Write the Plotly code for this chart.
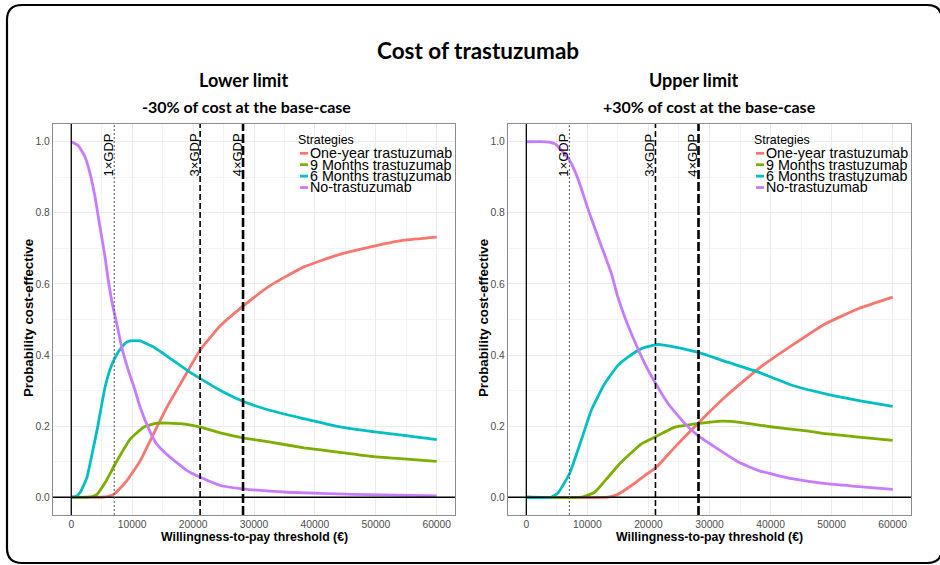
import plotly.graph_objects as go

W, H = 940, 565

# ---------------- data ----------------
strategies = ["One-year trastuzumab", "9 Months trastuzumab", "6 Months trastuzumab", "No-trastuzumab"]
colors = ["#F8766D", "#7CAE00", "#00BFC4", "#C77CFF"]
gdp = 7050
gdp_multiples = [1, 3, 4]
gdp_labels = ["1\u00d7GDP", "3\u00d7GDP", "4\u00d7GDP"]
x_ticks = [0, 10000, 20000, 30000, 40000, 50000, 60000]
y_ticks = [0.0, 0.2, 0.4, 0.6, 0.8, 1.0]

# Lower limit (-30%)
low_one_x = [0, 5000, 6000, 7200, 9150, 11340, 13530, 15730, 17920, 21200, 24500, 28160, 32700, 38200, 43700, 49150, 54600, 60000]
low_one_y = [0, 0, 0.002, 0.011, 0.047, 0.103, 0.179, 0.254, 0.319, 0.415, 0.483, 0.537, 0.596, 0.648, 0.681, 0.704, 0.723, 0.732]
low_9m_x = [0, 2500, 3500, 4220, 5590, 7230, 9700, 11890, 14080, 17920, 21200, 24500, 28160, 32700, 38200, 43700, 49150, 54600, 60000]
low_9m_y = [0, 0, 0.002, 0.008, 0.042, 0.094, 0.164, 0.197, 0.2085, 0.207, 0.197, 0.181, 0.167, 0.155, 0.139, 0.127, 0.115, 0.108, 0.101]
low_6m_x = [0, 800, 1480, 2580, 3400, 4300, 5550, 6630, 7730, 8830, 9650, 11290, 13530, 16270, 19020, 21200, 24500, 28160, 32700, 38200, 43700, 49150, 54600, 60000]
low_6m_y = [0, 0.003, 0.014, 0.056, 0.120, 0.195, 0.310, 0.372, 0.409, 0.433, 0.440, 0.440, 0.4225, 0.390, 0.357, 0.3335, 0.300, 0.270, 0.244, 0.221, 0.199, 0.185, 0.174, 0.162]
low_no_x = [0, 1100, 2200, 3070, 3890, 4710, 5530, 6070, 6730, 7450, 8270, 9370, 10470, 11290, 13000, 14000, 15700, 19000, 21200, 24500, 28200, 35500, 46400, 60000]
low_no_y = [1.0, 0.990, 0.960, 0.912, 0.846, 0.761, 0.677, 0.611, 0.545, 0.489, 0.423, 0.357, 0.301, 0.254, 0.182, 0.150, 0.120, 0.075, 0.056, 0.033, 0.0235, 0.014, 0.008, 0.004]

# Upper limit (+30%)
up_one_x = [0, 13370, 15010, 17210, 19400, 21310, 24330, 28060, 32550, 38030, 43510, 48990, 54460, 60000]
up_one_y = [0, 0, 0.008, 0.033, 0.061, 0.0845, 0.141, 0.207, 0.282, 0.362, 0.427, 0.488, 0.531, 0.563]
up_9m_x = [0, 8990, 11180, 13370, 15560, 18850, 21040, 24330, 28060, 32000, 35290, 39670, 46250, 48990, 54460, 60000]
up_9m_y = [0, 0, 0.014, 0.056, 0.099, 0.150, 0.169, 0.197, 0.207, 0.214, 0.210, 0.199, 0.186, 0.179, 0.169, 0.160]
up_6m_x = [0, 4060, 5150, 7070, 8990, 10630, 12820, 15010, 16650, 18850, 21590, 24330, 28060, 32550, 38030, 43510, 48990, 54460, 60000]
up_6m_y = [0, 0, 0.011, 0.066, 0.160, 0.244, 0.319, 0.371, 0.394, 0.418, 0.430, 0.4225, 0.408, 0.382, 0.352, 0.315, 0.291, 0.272, 0.2555]
up_no_x = [0, 3230, 4600, 5970, 7070, 8440, 10080, 12000, 13920, 15010, 16110, 17210, 19400, 21040, 23230, 25970, 28060, 30910, 34740, 38030, 43510, 48990, 54460, 60000]
up_no_y = [1.0, 1.0, 0.995, 0.972, 0.948, 0.897, 0.812, 0.720, 0.630, 0.562, 0.507, 0.460, 0.376, 0.324, 0.263, 0.207, 0.174, 0.141, 0.099, 0.075, 0.052, 0.038, 0.030, 0.022]

panels = [
    dict(series=[(low_one_x, low_one_y), (low_9m_x, low_9m_y), (low_6m_x, low_6m_y), (low_no_x, low_no_y)],
         title="Lower limit", subtitle="-30% of cost at the base-case"),
    dict(series=[(up_one_x, up_one_y), (up_9m_x, up_9m_y), (up_6m_x, up_6m_y), (up_no_x, up_no_y)],
         title="Upper limit", subtitle="+30% of cost at the base-case"),
]

# ---------------- layout geometry (pixels) ----------------
def px(x):
    return x / W

def py(y):
    return 1 - y / H

panel_x = [(53, 455), (508, 911)]
panel_y = (124, 515)
title_cx = [(243, 246), (694, 709)]
legend_x = [296, 752]
ytitle_x = [28, 483]

fig = go.Figure()
shapes = []
annotations = []
tick_font = dict(family="Liberation Sans, Arial", size=10.3, color="#4D4D4D")

for i, p in enumerate(panels):
    xa = "x" if i == 0 else "x2"
    ya = "y" if i == 0 else "y2"
    for (sx, sy), name, c in zip(p["series"], strategies, colors):
        fig.add_trace(go.Scatter(x=sx, y=sy, mode="lines", name=name,
                                 line=dict(color=c, width=2.8, shape="spline", smoothing=0.4),
                                 xaxis=xa, yaxis=ya, showlegend=False))
    axkey = "" if i == 0 else "2"
    xaxis = dict(domain=[px(panel_x[i][0]), px(panel_x[i][1])], range=[-3000, 63000],
                 tickvals=x_ticks, ticktext=[str(v) for v in x_ticks],
                 showgrid=True, gridcolor="#EBEBEB", gridwidth=1,
                 minor=dict(showgrid=True, gridcolor="#F4F4F4", gridwidth=0.6, dtick=10000, tick0=5000),
                 zeroline=False, showline=True, mirror=True, linecolor="#8C8C8C", linewidth=1.2,
                 ticks="", tickfont=tick_font, anchor=ya)
    yaxis = dict(domain=[py(panel_y[1]), py(panel_y[0])], range=[-0.05, 1.05],
                 tickvals=y_ticks, ticktext=["%.1f" % v for v in y_ticks],
                 showgrid=True, gridcolor="#EBEBEB", gridwidth=1,
                 minor=dict(showgrid=True, gridcolor="#F4F4F4", gridwidth=0.6, dtick=0.2, tick0=0.1),
                 zeroline=False, showline=True, mirror=True, linecolor="#8C8C8C", linewidth=1.2,
                 ticks="", tickfont=tick_font, anchor=xa)
    fig.update_layout(**{"xaxis" + axkey: xaxis, "yaxis" + axkey: yaxis})

    # reference lines at 0
    shapes.append(dict(type="line", xref=xa, yref=ya + " domain", x0=0, x1=0, y0=0, y1=1,
                       line=dict(color="black", width=1.3), layer="above"))
    shapes.append(dict(type="line", xref=xa + " domain", yref=ya, x0=0, x1=1, y0=0, y1=0,
                       line=dict(color="black", width=1.3), layer="above"))
    # GDP thresholds
    styles = [dict(color="#555555", width=1.0, dash="2px,2px"),
              dict(color="black", width=1.6, dash="6px,3px"),
              dict(color="black", width=2.6, dash="9px,3px")]
    for m, lab, st in zip(gdp_multiples, gdp_labels, styles):
        shapes.append(dict(type="line", xref=xa, yref=ya + " domain", x0=gdp * m, x1=gdp * m, y0=0, y1=1,
                           line=st, layer="above"))
        annotations.append(dict(x=gdp * m, y=0.962, xref=xa, yref=ya, text=lab, showarrow=False,
                                textangle=-90, xanchor="center", yanchor="middle", xshift=-6,
                                font=dict(family="Liberation Sans, Arial", size=13, color="black")))

    # titles
    annotations.append(dict(x=px(title_cx[i][0]), y=py(80), xref="paper", yref="paper", text="<b>%s</b>" % p["title"],
                            showarrow=False, xanchor="center", yanchor="middle",
                            font=dict(family="Lato", size=18, color="black")))
    annotations.append(dict(x=px(title_cx[i][1]), y=py(107), xref="paper", yref="paper", text="<b>%s</b>" % p["subtitle"],
                            showarrow=False, xanchor="center", yanchor="middle",
                            font=dict(family="Lato", size=16, color="black")))
    # axis titles
    cx = (panel_x[i][0] + panel_x[i][1]) / 2
    annotations.append(dict(x=px(cx), y=py(537), xref="paper", yref="paper",
                            text="<b>Willingness-to-pay threshold (\u20ac)</b>", showarrow=False,
                            xanchor="center", yanchor="middle",
                            font=dict(family="Liberation Sans, Arial", size=12.3, color="black")))
    annotations.append(dict(x=px(ytitle_x[i]), y=py(318), xref="paper", yref="paper",
                            text="<b>Probability cost-effective</b>", showarrow=False, textangle=-90,
                            xanchor="center", yanchor="middle",
                            font=dict(family="Liberation Sans, Arial", size=13.3, color="black")))
    # legend (manual, compact like the original)
    lx = legend_x[i]
    annotations.append(dict(x=px(lx), y=py(140), xref="paper", yref="paper", text="Strategies",
                            showarrow=False, xanchor="left", yanchor="middle",
                            font=dict(family="Liberation Sans, Arial", size=12.4, color="black")))
    for k, (name, c) in enumerate(zip(strategies, colors)):
        yy = 153.3 + k * 11.4
        shapes.append(dict(type="line", xref="paper", yref="paper", x0=px(lx + 4), x1=px(lx + 12),
                           y0=py(yy), y1=py(yy), line=dict(color=c, width=2.8)))
        annotations.append(dict(x=px(lx + 12), y=py(yy), xref="paper", yref="paper", text=name,
                                showarrow=False, xanchor="left", yanchor="middle",
                                font=dict(family="Liberation Sans, Arial", size=14.3, color="black")))

# main title
annotations.append(dict(x=px(478), y=py(51), xref="paper", yref="paper", text="<b>Cost of trastuzumab</b>",
                        showarrow=False, xanchor="center", yanchor="middle",
                        font=dict(family="Lato", size=22.5, color="black")))

# outer rounded frame
x0, x1, y0, y1, r = 7, 942, 5, 563, 15
path = (f"M {px(x0)},{py(y0 + r)} Q {px(x0)},{py(y0)} {px(x0 + r)},{py(y0)} "
        f"L {px(x1 - r)},{py(y0)} Q {px(x1)},{py(y0)} {px(x1)},{py(y0 + r)} "
        f"L {px(x1)},{py(y1 - r)} Q {px(x1)},{py(y1)} {px(x1 - r)},{py(y1)} "
        f"L {px(x0 + r)},{py(y1)} Q {px(x0)},{py(y1)} {px(x0)},{py(y1 - r)} Z")
shapes.append(dict(type="path", xref="paper", yref="paper", path=path,
                   line=dict(color="black", width=2.2), layer="above"))

fig.update_layout(width=W, height=H, margin=dict(l=0, r=0, t=0, b=0),
                  paper_bgcolor="white", plot_bgcolor="white",
                  shapes=shapes, annotations=annotations, showlegend=False)

fig.write_html("out.html")
